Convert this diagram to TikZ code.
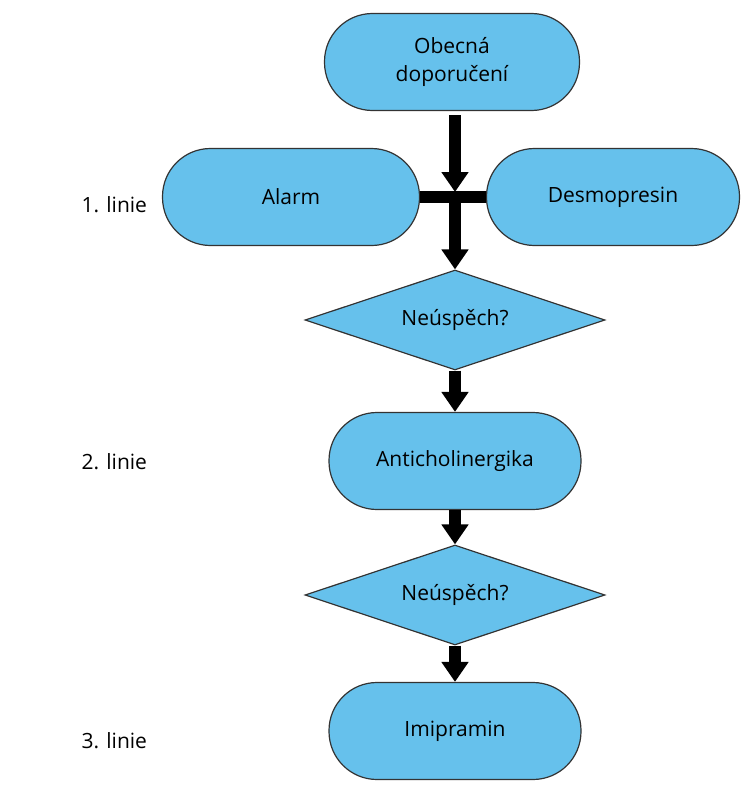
\documentclass[tikz,border=0pt]{standalone}
\usepackage{fontspec}
\setmainfont{Open Sans}
\usetikzlibrary{arrows.meta,shapes.geometric}
\definecolor{fillb}{RGB}{102,193,236}
\begin{document}
\begin{tikzpicture}[x=1pt,y=-1pt,
  term/.style={draw=black!80,line width=1.2pt,fill=fillb,rounded corners=48pt,minimum width=#1,minimum height=97pt,inner sep=0pt,align=center,font=\fontsize{21}{28}\selectfont},
  dec/.style={draw=black!80,line width=1.2pt,fill=fillb,diamond,aspect=3,minimum width=300pt,minimum height=100pt,inner sep=0pt,font=\fontsize{21}{26}\selectfont},
  arr/.style={line width=12pt,-{Triangle[width=26pt,length=20pt]}},
  lab/.style={font=\fontsize{21}{26}\selectfont,anchor=west}]
\useasboundingbox (0,0) rectangle (750,800);
\node[term=255pt] (a) at (452,62) {Obecná\\doporučení};
\node[term=257pt] (b) at (291,197) {Alarm};
\node[term=253pt] (c) at (613,197) {Desmopresin};
\node[dec] (d1) at (455,320) {Neúspěch?};
\node[term=252pt] (e) at (455,461) {Anticholinergika};
\node[dec] (d2) at (455,595) {Neúspěch?};
\node[term=252pt] (f) at (455,731) {Imipramin};
\coordinate (j) at (455,197);
\draw[line width=12pt] (b.east) -- (c.west);
\draw[arr] (455,115) -- (455,192);
\draw[arr] (j) -- (d1.north);
\draw[arr] (d1.south) -- (e.north);
\draw[arr] (e.south) -- (d2.north);
\draw[arr] (d2.south) -- (f.north);
\node[lab] (l1) at (78,205) {1. linie};
\node[lab] (l2) at (78,462) {2. linie};
\node[lab] (l3) at (78,741) {3. linie};
\end{tikzpicture}
\end{document}
